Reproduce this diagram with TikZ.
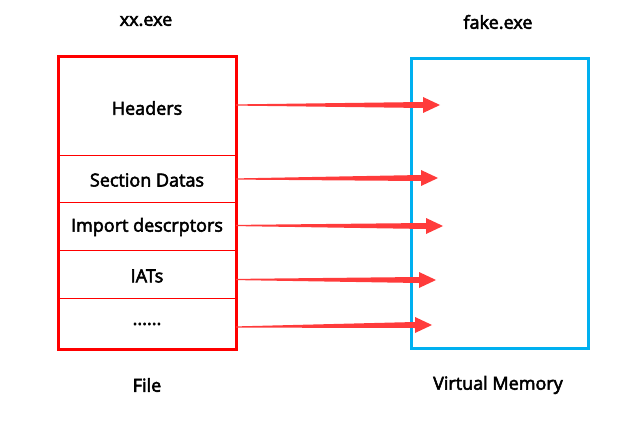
\documentclass[tikz,border=0pt]{standalone}
\usepackage{fontspec}
\newfontfamily\lblfont{Open Sans}[FakeBold=3]
\usetikzlibrary{calc}
\definecolor{boxred}{RGB}{255,0,0}
\definecolor{memblue}{RGB}{0,176,240}
\definecolor{arrred}{RGB}{255,59,59}
\begin{document}
\begin{tikzpicture}[x=1pt,y=-1pt,
  lbl/.style={font=\lblfont\fontsize{18}{20}\selectfont, text=black, inner sep=0pt},
  sect/.style={draw=boxred, line width=1pt, minimum width=177pt, inner sep=0pt, anchor=north west},
  outerbox/.style={draw=boxred, line width=3pt},
  membox/.style={draw=memblue, line width=3pt}]
\useasboundingbox (0,0) rectangle (642,422);
% sections of the file
\node[sect, minimum height=98pt] (hdr) at (58,57) {};
\node[sect, minimum height=47pt] (sec) at (58,155) {};
\node[sect, minimum height=48pt] (imp) at (58,202) {};
\node[sect, minimum height=48pt] (iat) at (58,250) {};
\node[sect, minimum height=50pt] (dots) at (58,298) {};
\draw[outerbox] (hdr.north west) rectangle (dots.south east);
% memory box
\node[membox, minimum width=177pt, minimum height=290pt, inner sep=0pt, anchor=north west] (mem) at (410,57) {};
% labels
\node[lbl] (t1) at (147,108) {Headers};
\node[lbl] (t2) at (147,180) {Section Datas};
\node[lbl] (t3) at (147,227) {Import descrptors};
\node[lbl] (t4) at (147,276) {IATs};
\node[lbl] (t5) at (147,324) {......};
\node[lbl] (xx) at (146,21) {xx.exe};
\node[lbl] (fk) at (498,22) {fake.exe};
\node[lbl] (fl) at (147,385) {File};
\node[lbl] (vm) at (498,385) {Virtual Memory};
% arrow end points
\coordinate (e1) at (440,105);
\coordinate (e2) at (438,178);
\coordinate (e3) at (443,226);
\coordinate (e4) at (436,280);
\coordinate (e5) at (432,325);
\coordinate (s1) at (236,105);
\coordinate (s2) at (236,179);
\coordinate (s3) at (236,225.5);
\coordinate (s4) at (236,279.5);
\coordinate (s5) at (236,327);
\foreach \i in {1,...,5}{
  \fill[arrred] ($(s\i)+(0,-0.6)$) -- ($(e\i)+(-17,-3)$) -- ($(e\i)+(-17,-8)$) -- (e\i)
    -- ($(e\i)+(-17,8)$) -- ($(e\i)+(-17,3)$) -- ($(s\i)+(0,0.6)$) -- cycle;
}
\end{tikzpicture}
\end{document}
